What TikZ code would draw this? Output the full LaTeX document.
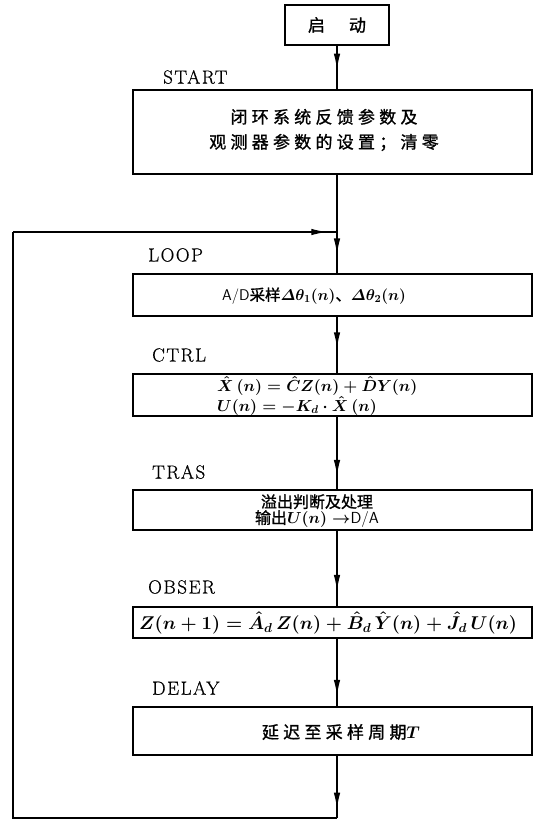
\RequirePackage{fix-cm}
\documentclass[tikz,border=0pt]{standalone}
\usepackage{amsmath}
\usepackage{fontspec}
\newfontfamily\cjk{Noto Sans CJK SC}[FakeBold=1.2]
\newfontfamily\cjkw{Noto Sans CJK SC}[LetterSpace=25,FakeBold=1.2]
\newfontfamily\lblfont{Latin Modern Roman}[LetterSpace=8,FakeBold=0.6]
\usetikzlibrary{arrows.meta,decorations.markings}
\tikzset{
  procbox/.style={draw, line width=2.2pt, minimum width=399pt, inner sep=0pt},
  conn/.style={line width=1.4pt},
  midarrow/.style={postaction={decorate},
    decoration={markings, mark=at position #1 with {\arrow{Latex[length=16pt,width=6.5pt]}}}},
  lbl/.style={anchor=west, inner sep=0pt, font=\lblfont\fontsize{19}{21}\selectfont},
  mtext/.style={inner sep=0pt, font=\fontsize{17}{17}\selectfont\boldmath},
}
\begin{document}
\begin{tikzpicture}[x=1pt,y=-1pt]
\useasboundingbox (0,0) rectangle (535,821);
% start
\node[draw, line width=2.5pt, minimum width=104pt, minimum height=40pt, inner sep=0pt,
      font=\cjk\fontsize{17}{20}\selectfont] (s) at (337,25) {启\hspace{24pt}动};
% boxes
\node[procbox, minimum height=84pt] (b1) at (332.5,132) {};
\node[procbox, minimum height=42pt] (lp) at (332.5,295) {};
\node[procbox, minimum height=42pt] (ct) at (332.5,395) {};
\node[procbox, minimum height=40pt] (tr) at (332.5,510) {};
\node[procbox, minimum height=31pt] (ob) at (332.5,622.5) {};
\node[procbox, minimum height=48pt] (dl) at (332.5,731) {};
% labels
\node[lbl] (lstart) at (163,77) {START};
\node[lbl] (lloop) at (148,255) {LOOP};
\node[lbl] (lctrl) at (152,355) {CTRL};
\node[lbl] (ltras) at (152,472) {TRAS};
\node[lbl] (lobser) at (148,587) {OBSER};
\node[lbl] (ldelay) at (152,688) {DELAY};
% texts
\node[align=center, inner sep=0pt, font=\cjkw\fontsize{17}{25}\selectfont] (t1) at (324,130)
  {闭环系统反馈参数及\\观测器参数的设置；清零};
\node[mtext, font=\fontsize{15.5}{16}\selectfont\boldmath] (t2) at (314,296)
  {{\sffamily A/D}{\cjk 采样}$\varDelta\theta_1(n)${\cjk 、}$\varDelta\theta_2(n)$};
\node[mtext, anchor=west, align=left, font=\fontsize{16}{17.5}\selectfont\boldmath] (t3) at (217,396)
  {$\hat{X}\,(n)=\hat{C}Z(n)+\hat{D}Y(n)$\\$U(n)=-K_d\cdot\hat{X}\,(n)$};
\node[mtext, align=center, font=\fontsize{16}{16}\selectfont\boldmath] (t4) at (317,511)
  {{\cjk 溢出判断及处理}\\{\cjk 输出}$U(n)\to${\sffamily D/A}};
\node[mtext, font=\fontsize{18.5}{20}\selectfont\boldmath] (t5) at (328,623)
  {$Z(n+1)=\hat{A}_d\,Z(n)+\hat{B}_d\,\hat{Y}(n)+\hat{J}_d\,U(n)$};
\node[mtext] (t6) at (341,732) {{\cjkw 延迟至采样周期}$T$};
% connectors
\coordinate (J) at (s.south |- 0,232);
\coordinate (L1) at (s.south |- 0,818);
\coordinate (L2) at (13,818);
\coordinate (L3) at (13,232);
\draw[conn, midarrow=0.55] (s.south) -- (s.south |- b1.north);
\draw[conn] (s.south |- b1.south) -- (J);
\draw[conn, midarrow=0.55] (J) -- (s.south |- lp.north);
\draw[conn, midarrow=0.56] (s.south |- lp.south) -- (s.south |- ct.north);
\draw[conn, midarrow=0.82] (s.south |- ct.south) -- (s.south |- tr.north);
\draw[conn, midarrow=0.8] (s.south |- tr.south) -- (s.south |- ob.north);
\draw[conn, midarrow=0.85] (s.south |- ob.south) -- (s.south |- dl.north);
\draw[conn, midarrow=0.85] (s.south |- dl.south) -- (L1);
\draw[conn] (L1) -- (L2) -- (L3);
\draw[conn, midarrow=0.97] (L3) -- (J);
\end{tikzpicture}
\end{document}
